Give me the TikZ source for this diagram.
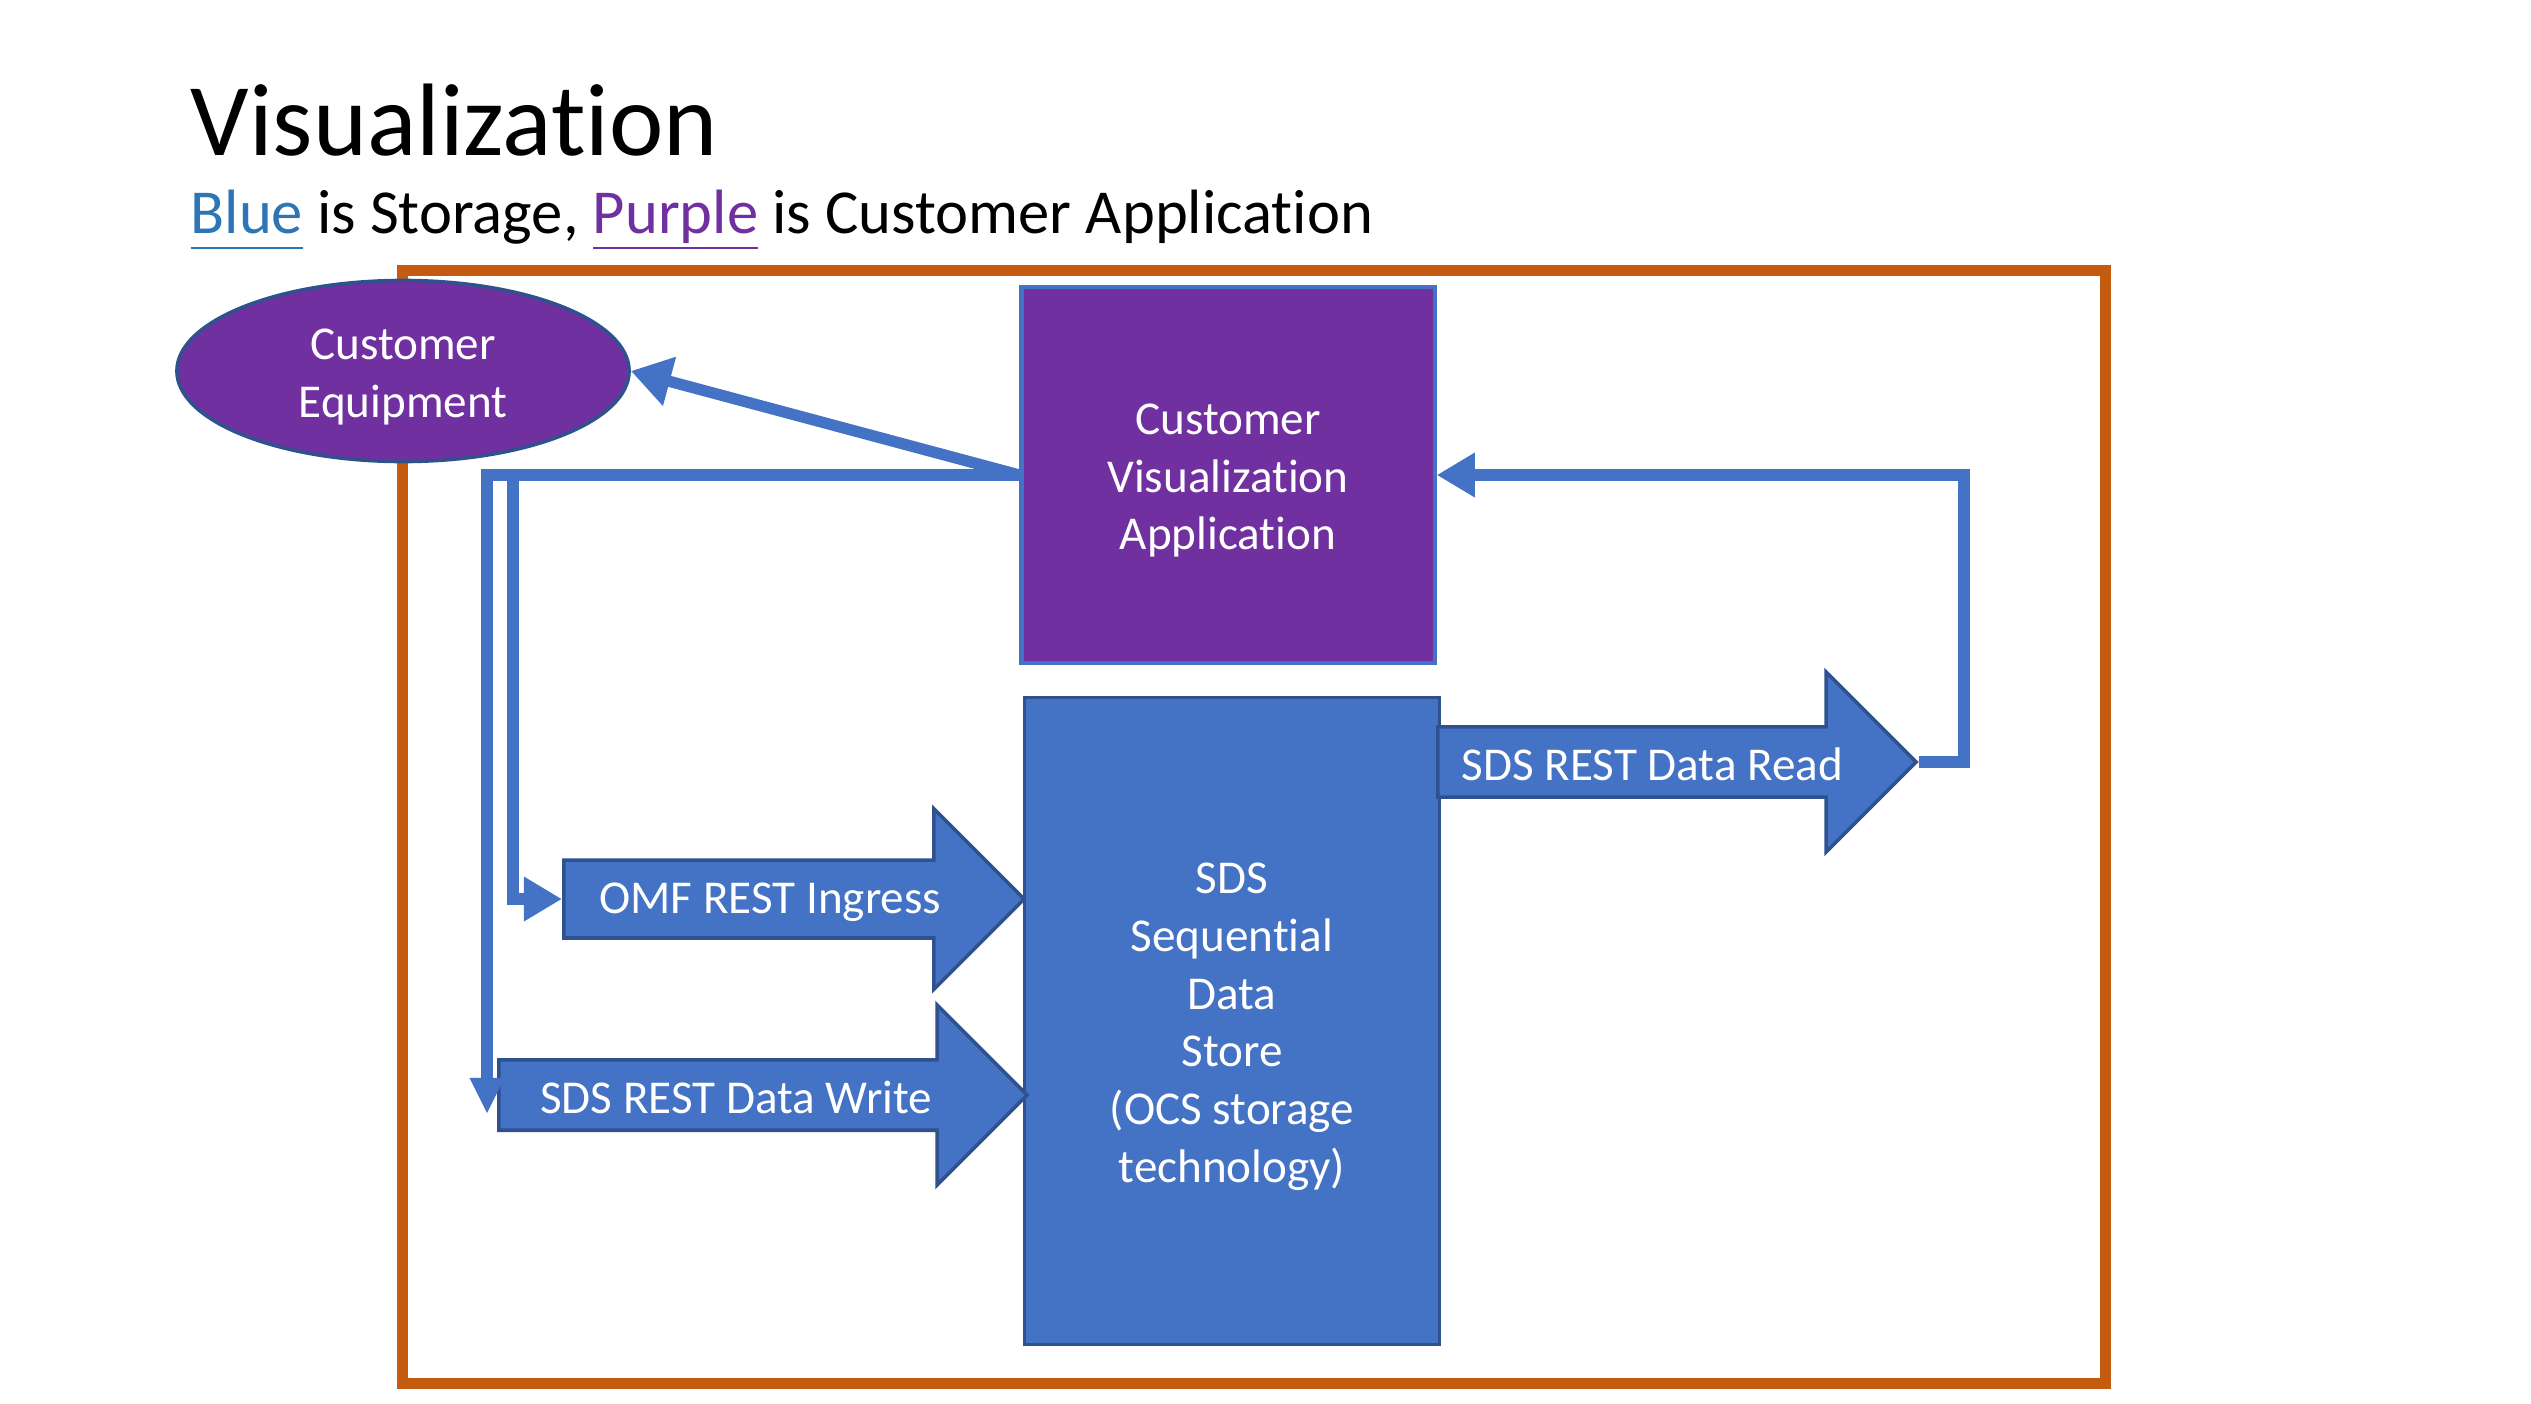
\documentclass[tikz,border=0pt]{standalone}
\usepackage{fontspec}
\setmainfont{Carlito}[Ligatures={TeX,NoCommon}]
\usetikzlibrary{shapes.geometric,shapes.arrows,arrows.meta}
\definecolor{boxblue}{HTML}{4472C4}
\definecolor{edgeblue}{HTML}{2F528F}
\definecolor{appurple}{HTML}{7030A0}
\definecolor{frameorange}{HTML}{C55A11}
\definecolor{linkblue}{HTML}{2E75B6}
\newcommand{\tpad}{\rule{0pt}{12pt}}
\newcommand{\apad}{\rule{0pt}{10.6pt}}
\begin{document}
\begin{tikzpicture}[x=0.01cm,y=-0.01cm,
  bodyfont/.style={font=\fontsize{13.4pt}{16.4pt}\selectfont},
  purplebox/.style={rectangle, fill=appurple, draw=boxblue, line width=1.2pt, text=white, align=center, bodyfont, inner sep=0pt},
  storebox/.style={rectangle, fill=boxblue, draw=edgeblue, line width=1pt, text=white, align=center, bodyfont, inner sep=0pt},
  blockarrow/.style={single arrow, fill=boxblue, draw=edgeblue, line width=1pt, text=white, bodyfont,
    single arrow head extend=0.32cm, single arrow tip angle=90, minimum width=1.8cm, inner sep=0pt, anchor=tail},
  conn/.style={draw=boxblue, line width=3.2pt, -{Triangle[length=0.38cm,width=0.42cm]}},
  thinconn/.style={draw=boxblue, line width=3.2pt, -{Triangle[length=0.36cm,width=0.32cm]}},
]
\fill[white] (0,0) rectangle (2531,1403);
\useasboundingbox (0,0) rectangle (2531,1403);

% title
\node[anchor=base west, font=\fontsize{29.3pt}{35pt}\selectfont, inner sep=0pt] (title) at (190,155) {Visualization};
\node[anchor=base west, font=\fontsize{17.8pt}{21pt}\selectfont, inner sep=0pt] (sub) at (190,233)
  {\textcolor{linkblue}{\underline{\vphantom{p}Blue}} is Storage, \textcolor{appurple}{\underline{Purple}} is Customer Application};

% frame
\node[draw=frameorange, line width=3.1pt, minimum width=17.02cm, minimum height=11.12cm, inner sep=0pt] (frame) at (1254,827) {};

% customer equipment
\node[ellipse, fill=appurple, draw=edgeblue, line width=1pt, text=white, align=center, bodyfont,
      minimum width=4.52cm, minimum height=1.81cm, inner sep=0pt] (ce) at (403,371) {\tpad Customer\\Equipment};

% boxes
\node[purplebox, minimum width=4.13cm, minimum height=3.76cm] (cva) at (1228,475) {\tpad Customer\\Visualization\\Application};
\node[storebox, minimum width=4.15cm, minimum height=6.47cm] (sds) at (1232,1021) {\tpad SDS\\Sequential\\Data\\Store\\(OCS storage\\technology)};

% block arrows
\node[blockarrow, minimum height=4.6cm] (omf) at (562,899) {\hspace*{-0.08cm}\apad OMF REST Ingress};
\node[blockarrow, minimum height=5.28cm] (write) at (497,1095) {\hspace*{-0.18cm}\apad SDS REST Data Write};
\node[blockarrow, minimum height=4.78cm] (read) at (1436,762) {\hspace*{-0.14cm}\apad SDS REST Data Read};

% helper coordinates
\coordinate (wend) at (487,1114);
\coordinate (branch) at (513,475);
\coordinate (rcorner) at (1964,762);

% connectors
\draw[conn, -{Triangle[length=0.4cm,width=0.48cm]}] (cva.west) -- (ce.east);
\draw[thinconn] (cva.west) -| (wend);
\draw[conn] (branch) |- (omf.tail);
\draw[conn] (read.tip) -- (rcorner) |- (cva.east);
\end{tikzpicture}
\end{document}
